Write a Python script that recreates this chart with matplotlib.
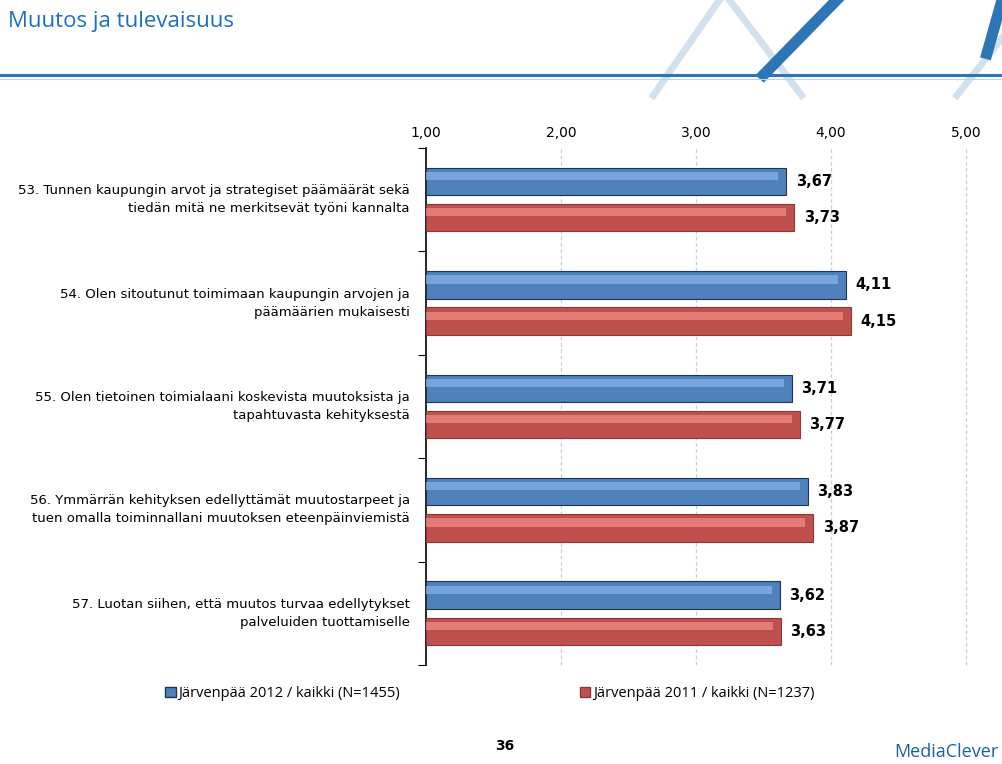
import numpy as np
import matplotlib
matplotlib.use("Agg")
import matplotlib.pyplot as plt
from matplotlib.lines import Line2D
from matplotlib.patches import Patch

# data
questions = [
    "53. Tunnen kaupungin arvot ja strategiset päämäärät sekä\ntiedän mitä ne merkitsevät työni kannalta",
    "54. Olen sitoutunut toimimaan kaupungin arvojen ja\npäämäärien mukaisesti",
    "55. Olen tietoinen toimialaani koskevista muutoksista ja\ntapahtuvasta kehityksestä",
    "56. Ymmärrän kehityksen edellyttämät muutostarpeet ja\ntuen omalla toiminnallani muutoksen eteenpäinviemistä",
    "57. Luotan siihen, että muutos turvaa edellytykset\npalveluiden tuottamiselle",
]
vals_2012 = [3.67, 4.11, 3.71, 3.83, 3.62]
vals_2011 = [3.73, 4.15, 3.77, 3.87, 3.63]
series_names = ["Järvenpää 2012 / kaikki (N=1455)", "Järvenpää 2011 / kaikki (N=1237)"]
x_ticks = [1, 2, 3, 4, 5]

blue = "#4F81BD"
blue_light = "#86B0E6"
blue_dark = "#1F3550"
red = "#C0504D"
red_light = "#F08A86"
red_dark = "#8C3836"

fig = plt.figure(figsize=(10.02, 7.64), dpi=100)
fig.patch.set_facecolor("white")

# header
fig.text(0.008, 0.972, "Muutos ja tulevaisuus", color="#1F6FC0", fontsize=16,
         family="Open Sans", va="center", ha="left")

# decorative logo strokes (top right), drawn under the header rule
fig.add_artist(Line2D([0.652, 0.718], [0.875, 1.0], color="#D3E1EE", lw=5, zorder=0))
fig.add_artist(Line2D([0.728, 0.80], [1.0, 0.875], color="#D3E1EE", lw=5, zorder=0))
fig.add_artist(Line2D([0.762, 0.835], [0.902, 1.0], color="#2E75B6", lw=8, zorder=0))
fig.add_artist(Line2D([0.955, 1.0], [0.875, 0.95], color="#D3E1EE", lw=5, zorder=0))
fig.add_artist(Line2D([0.985, 1.0], [0.93, 1.0], color="#2E75B6", lw=8, zorder=0))
fig.add_artist(Line2D([0, 1], [0.902, 0.902], color="#2E75B6", lw=2.2))
fig.add_artist(Line2D([0, 1], [0.897, 0.897], color="#BFD4EA", lw=0.8))

ax = fig.add_axes([0.4251, 0.1296, 0.5389, 0.6767])
n = len(questions)
centers = np.arange(n)
h = 0.265
off = 0.175

y_blue = centers - off
y_red = centers + off

ax.barh(y_blue, np.array(vals_2012) - 1, left=1, height=h, color=blue,
        edgecolor=blue_dark, lw=0.8, zorder=3)
ax.barh(y_blue - h * 0.2, np.array(vals_2012) - 1.06, left=1.0, height=h * 0.3,
        color=blue_light, lw=0, zorder=4, alpha=0.75)
ax.barh(y_red, np.array(vals_2011) - 1, left=1, height=h, color=red,
        edgecolor=red_dark, lw=0.8, zorder=3)
ax.barh(y_red - h * 0.2, np.array(vals_2011) - 1.06, left=1.0, height=h * 0.3,
        color=red_light, lw=0, zorder=4, alpha=0.75)

for y, v in zip(y_blue, vals_2012):
    ax.text(v + 0.07, y, f"{v:.2f}".replace(".", ","), va="center", ha="left",
            fontsize=10.5, fontweight="bold")
for y, v in zip(y_red, vals_2011):
    ax.text(v + 0.07, y, f"{v:.2f}".replace(".", ","), va="center", ha="left",
            fontsize=10.5, fontweight="bold")

ax.set_xlim(1, 5)
ax.set_ylim(n - 0.5, -0.5)
ax.set_xticks(x_ticks)
ax.set_xticklabels([f"{t:.2f}".replace(".", ",") for t in x_ticks], fontsize=10)
ax.xaxis.tick_top()
ax.tick_params(axis="x", length=0, pad=6)
ax.set_yticks(np.arange(n + 1) - 0.5)
ax.set_yticklabels([])
ax.tick_params(axis="y", length=6, color="black", direction="out")
for y, q in zip(centers, questions):
    ax.text(0.88, y, q, ha="right", va="center", fontsize=9.5, linespacing=1.5)

for t in x_ticks[1:]:
    ax.axvline(t, color="#C5CFE8", lw=0.9, ls=(0, (3, 2)), zorder=1, clip_on=False)
for s in ["top", "right", "bottom"]:
    ax.spines[s].set_visible(False)
ax.spines["left"].set_color("black")
ax.spines["left"].set_linewidth(1.2)

handles = [Patch(facecolor=blue, edgecolor=blue_dark), Patch(facecolor=red, edgecolor=red_dark)]
fig.legend(handles[:1], series_names[:1], loc="center left", bbox_to_anchor=(0.152, 0.0925),
           frameon=False, handlelength=0.7, handleheight=0.7, handletextpad=0.2,
           prop={"family": "Open Sans", "size": 10.5})
fig.legend(handles[1:], series_names[1:], loc="center left", bbox_to_anchor=(0.566, 0.0925),
           frameon=False, handlelength=0.7, handleheight=0.7, handletextpad=0.2,
           prop={"family": "Open Sans", "size": 10.5})

fig.text(0.504, 0.024, "36", ha="center", va="center", fontsize=10, fontweight="bold")
fig.text(0.997, 0.016, "MediaClever", ha="right", va="center", fontsize=13,
         color="#1F5FA8", family="Open Sans")

fig.savefig("out.png", dpi=100)
